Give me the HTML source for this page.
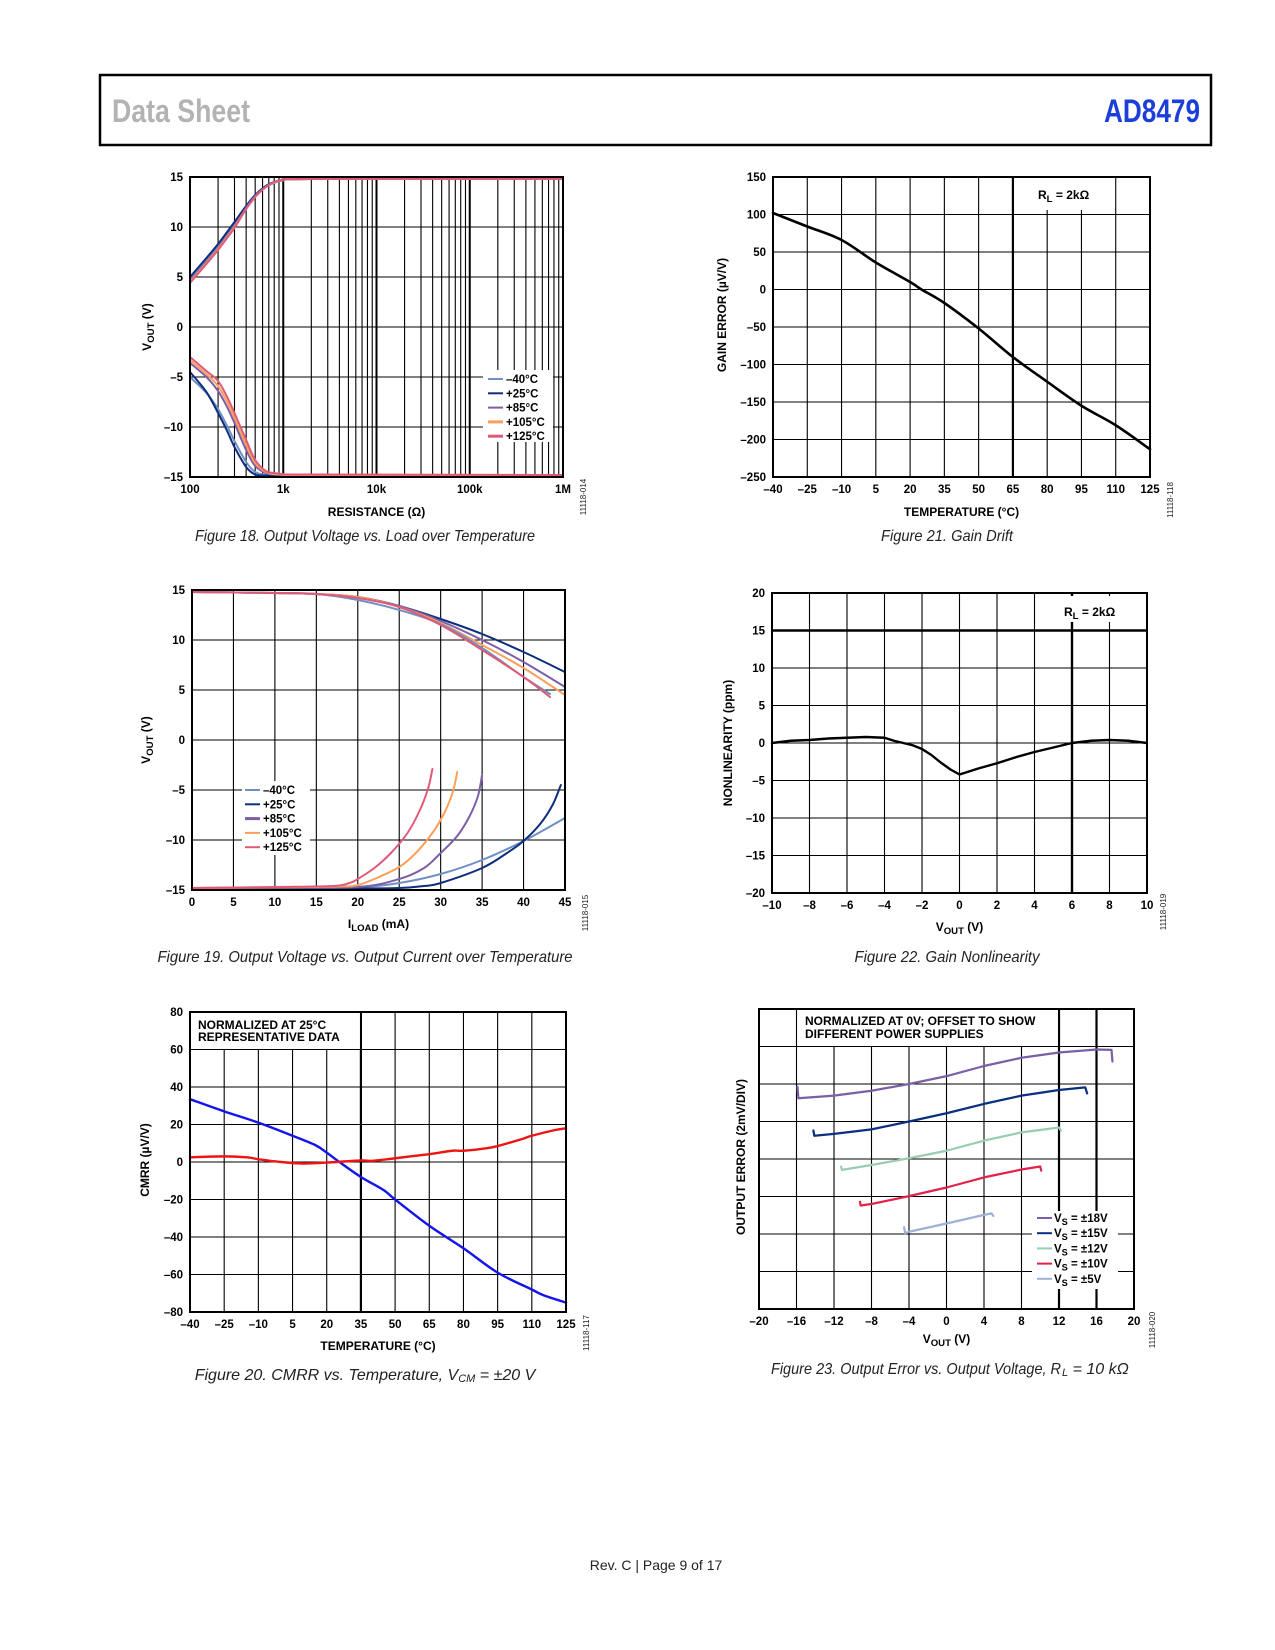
<!DOCTYPE html>
<html><head><meta charset="utf-8">
<style>
html,body{margin:0;padding:0;background:#fff;}
svg{display:block;font-family:"Liberation Sans",sans-serif;}
.tk{font-size:11.5px;font-weight:bold;fill:#000;}
.at{font-size:12px;font-weight:bold;fill:#000;}
.cap{font-size:16px;font-style:italic;fill:#222;}
.fid{font-size:8px;fill:#222;}
</style></head>
<body>
<svg id="page" xmlns="http://www.w3.org/2000/svg" width="1275" height="1650" viewBox="0 0 1275 1650">
<rect x="0" y="0" width="1275" height="1650" fill="#fff"/>
<g>
<rect x="100" y="75" width="1111" height="70" fill="none" stroke="#000" stroke-width="2.5"/>
<text x="112" y="122" style="font-family:'Liberation Sans Narrow','Liberation Sans',sans-serif;font-size:32px;font-weight:bold;fill:#b3b3b3" textLength="138" lengthAdjust="spacingAndGlyphs">Data Sheet</text>
<text x="1200" y="122" text-anchor="end" style="font-family:'Liberation Sans Narrow','Liberation Sans',sans-serif;font-size:32px;font-weight:bold;fill:#1b3fd8" textLength="96" lengthAdjust="spacingAndGlyphs">AD8479</text>
</g>
<text x="656" y="1570" text-anchor="middle" style="font-size:14px;fill:#222">Rev. C | Page 9 of 17</text>
</svg>
<script>
// ---------- Figure 18 data ----------
const f18R=[100,150,200,250,300,400,500,650,800,1000,2000,1e6];
const f18UpM40=[4.8,6.7,8.1,9.3,10.3,12.0,13.1,14.0,14.4,14.65,14.8,14.8];
const f18UpP25=[5.0,6.9,8.3,9.5,10.5,12.1,13.2,14.1,14.5,14.7,14.8,14.8];
const f18UpP85=[4.6,6.5,7.9,9.1,10.1,11.9,13.1,14.0,14.45,14.7,14.8,14.8];
const f18UpP105=[4.5,6.4,7.8,9.0,10.0,11.8,13.0,14.0,14.45,14.7,14.8,14.8];
const f18UpP125=[4.4,6.3,7.7,8.9,9.9,11.8,13.0,14.0,14.5,14.7,14.8,14.8];
const f18LoM40=[-5.0,-6.6,-8.2,-9.9,-11.4,-13.5,-14.5,-14.8,-14.85,-14.9,-14.9,-14.9];
const f18LoP25=[-4.5,-6.5,-8.6,-10.4,-12.0,-14.0,-14.75,-14.85,-14.9,-14.9,-14.9,-14.9];
const f18LoP85=[-3.6,-5.0,-6.4,-8.0,-9.6,-12.3,-13.9,-14.6,-14.75,-14.8,-14.85,-14.85];
const f18LoP105=[-3.3,-4.7,-5.9,-7.5,-9.1,-11.8,-13.6,-14.5,-14.7,-14.75,-14.8,-14.85];
const f18LoP125=[-3.0,-4.4,-5.4,-7.0,-8.6,-11.3,-13.3,-14.4,-14.6,-14.7,-14.75,-14.8];
const f18XTicks=[100,1000,10000,100000,1000000];
const f18XLabels=["100","1k","10k","100k","1M"];
const f18YTicks=[15,10,5,0,-5,-10,-15];
const f18YLabels=["15","10","5","0","–5","–10","–15"];
// ---------- Figure 19 data ----------
const f19XTicks=[0,5,10,15,20,25,30,35,40,45];
const f19YTicks=[15,10,5,0,-5,-10,-15];
const f19YLabels=["15","10","5","0","–5","–10","–15"];
const f19UpX=[0,10,15,20,25,30,35,40,45];
const f19UpP25=[14.8,14.7,14.6,14.3,13.4,12.1,10.6,8.8,6.8];
const f19UpP85=[14.8,14.7,14.6,14.3,13.4,11.9,10.0,7.8,5.3];
const f19UpP105=[14.8,14.7,14.6,14.3,13.3,11.7,9.5,7.2,4.5];
const f19UpM40X=[0,10,15,20,25,30,35,40,43.2];
const f19UpM40=[14.8,14.7,14.6,14.0,13.0,11.6,9.2,6.3,4.6];
const f19UpP125X=[0,10,15,20,25,30,35,40,43.2];
const f19UpP125=[14.8,14.7,14.6,14.2,13.3,11.5,9.0,6.3,4.3];
const f19LoM40X=[0,10,20,25,30,35,40,45];
const f19LoM40=[-14.8,-14.75,-14.7,-14.3,-13.4,-12.0,-10.1,-7.8];
const f19LoP25X=[0,10,20,25,28,30,35,38,40,42,43.5,44.5];
const f19LoP25=[-14.9,-14.9,-14.85,-14.8,-14.6,-14.3,-12.8,-11.3,-10.1,-8.4,-6.5,-4.5];
const f19LoP85X=[0,10,20,25,28,30,32,33.5,34.5,35];
const f19LoP85=[-14.8,-14.75,-14.7,-13.9,-12.8,-11.3,-9.6,-7.6,-5.6,-3.5];
const f19LoP105X=[0,10,18,20,22,25,27,29,30.5,31.5,32];
const f19LoP105=[-14.8,-14.75,-14.65,-14.5,-13.9,-12.7,-11.3,-9.3,-7.2,-5.1,-3.2];
const f19LoP125X=[0,10,17,19,20,22,24,26,27.5,28.5,29];
const f19LoP125=[-14.8,-14.7,-14.6,-14.3,-13.9,-12.8,-11.3,-9.3,-7.0,-4.8,-2.9];
// ---------- Figure 20 data ----------
const f20XTicks=[-40,-25,-10,5,20,35,50,65,80,95,110,125];
const f20XLabels=["–40","–25","–10","5","20","35","50","65","80","95","110","125"];
const f20YTicks=[80,60,40,20,0,-20,-40,-60,-80];
const f20YLabels=["80","60","40","20","0","–20","–40","–60","–80"];
const f20BlueT=[-40,-25,-10,5,15,20,25,35,45,50,65,80,95,110,115,125];
const f20Blue=[33.5,27,21,14,9,5,0.5,-8,-15,-20,-34,-46,-59,-68,-71,-75];
const f20RedT=[-40,-25,-15,-10,0,10,20,35,40,50,65,75,80,90,95,105,110,120,125];
const f20Red=[2.5,3,2.5,1.5,0,-0.8,-0.3,0.8,0.6,2,4.2,6,6,7.3,8.5,12,14,17,18];
// ---------- Figure 21 data ----------
const f21XTicks=[-40,-25,-10,5,20,35,50,65,80,95,110,125];
const f21XLabels=["–40","–25","–10","5","20","35","50","65","80","95","110","125"];
const f21YTicks=[150,100,50,0,-50,-100,-150,-200,-250];
const f21YLabels=["150","100","50","0","–50","–100","–150","–200","–250"];
const f21T=[-40,-25,-10,5,20,25,35,50,65,80,95,110,125];
const f21Gain=[102,84,66,36,10,0,-18,-52,-90,-123,-155,-181,-213];
// ---------- Figure 22 data ----------
const f22XTicks=[-10,-8,-6,-4,-2,0,2,4,6,8,10];
const f22XLabels=["–10","–8","–6","–4","–2","0","2","4","6","8","10"];
const f22YTicks=[20,15,10,5,0,-5,-10,-15,-20];
const f22YLabels=["20","15","10","5","0","–5","–10","–15","–20"];
const f22V=[-10,-9,-8,-7,-6,-5,-4,-3.5,-3,-2.5,-2,-1.5,-1,-0.5,0,0.5,1,2,3,4,5,6,7,8,9,10];
const f22NL=[0,0.3,0.4,0.6,0.7,0.8,0.7,0.3,0,-0.3,-0.8,-1.6,-2.6,-3.5,-4.2,-3.8,-3.4,-2.7,-1.9,-1.2,-0.6,0,0.3,0.4,0.3,0];
// ---------- Figure 23 data (y in divisions) ----------
const f23XTicks=[-20,-16,-12,-8,-4,0,4,8,12,16,20];
const f23XLabels=["–20","–16","–12","–8","–4","0","4","8","12","16","20"];
const f23S18X=[-15.9,-15.8,-12,-8,-4,0,4,8,12,16,17.6,17.7];
const f23S18=[5.93,5.62,5.69,5.82,6.0,6.21,6.48,6.70,6.84,6.92,6.91,6.6];
const f23S15X=[-14.2,-14.1,-12,-8,-4,0,4,8,12,14.8,15.0];
const f23S15=[4.76,4.62,4.67,4.79,5.0,5.22,5.47,5.69,5.84,5.91,5.75];
const f23S12X=[-11.25,-11.15,-8,-4,0,4,8,12,12.2];
const f23S12=[3.80,3.71,3.84,4.02,4.22,4.49,4.71,4.84,4.76];
const f23S10X=[-9.23,-9.16,-8,-4,0,4,8,10.0,10.1];
const f23S10=[2.86,2.76,2.80,3.01,3.24,3.51,3.72,3.80,3.69];
const f23S5X=[-4.53,-4.4,-4,0,4,4.8,5.0];
const f23S5=[2.18,2.02,2.06,2.28,2.51,2.55,2.48];

const NS="http://www.w3.org/2000/svg";
const svg=document.getElementById('page');
function mk(tag,attrs,parent){const e=document.createElementNS(NS,tag);for(const k in attrs)e.setAttribute(k,attrs[k]);(parent||svg).appendChild(e);return e;}
function smooth(p){let d='M'+p[0][0].toFixed(2)+','+p[0][1].toFixed(2);for(let i=0;i<p.length-1;i++){const p0=p[i-1]||p[i],p1=p[i],p2=p[i+1],p3=p[i+2]||p2;const c1=[p1[0]+(p2[0]-p0[0])/6,p1[1]+(p2[1]-p0[1])/6];const c2=[p2[0]-(p3[0]-p1[0])/6,p2[1]-(p3[1]-p1[1])/6];d+='C'+c1[0].toFixed(2)+','+c1[1].toFixed(2)+' '+c2[0].toFixed(2)+','+c2[1].toFixed(2)+' '+p2[0].toFixed(2)+','+p2[1].toFixed(2);}return d;}
function lin(p){return 'M'+p.map(q=>q[0].toFixed(2)+','+q[1].toFixed(2)).join('L');}
function series(g,xs,ys,sx,sy,color,w,name,isSmooth){
  const pts=xs.map((x,i)=>[sx(x),sy(ys[i])]);
  const p=mk('path',{d:isSmooth?smooth(pts):lin(pts),fill:'none',stroke:color,'stroke-width':w,'stroke-linejoin':'round','stroke-linecap':'round'},g);
  
  
  return p;
}
function gline(g,x1,y1,x2,y2,w){const l=mk('line',{x1:x1,y1:y1,x2:x2,y2:y2,stroke:'#000','stroke-width':w},g);return l;}
function txt(g,s,x,y,cls,anchor,name){const t=mk('text',{x:x,y:y,'class':cls,'text-anchor':anchor||'middle'},g);t.textContent=s;return t;}
function sub(g,main,subs,rest,x,y,cls,anchor,name,rot){
  const t=mk('text',{x:x,y:y,'class':cls,'text-anchor':anchor||'middle'},g);
  if(rot)t.setAttribute('transform','rotate(-90 '+x+' '+y+')');
  
  
  const a=mk('tspan',{},t);a.textContent=main;
  const b=mk('tspan',{dy:3,'font-size':'0.8em'},t);b.textContent=subs;
  const c=mk('tspan',{dy:-3},t);c.textContent=rest;
  return t;
}
function figId(g,s,x,y){const t=mk('text',{x:x,y:y,'class':'fid','text-anchor':'middle',transform:'rotate(-90 '+x+' '+y+')'},g);t.textContent=s;}
function caption(g,s,x,y,len){const t=mk('text',{x:x,y:y,'class':'cap','text-anchor':'middle',textLength:len,lengthAdjust:'spacingAndGlyphs'},g);t.textContent=s;return t;}
function whiteBox(g,x,y,w,h,name){const r=mk('rect',{x:x,y:y,width:w,height:h,fill:'#fff'},g);return r;}
function frame(g,L,T,R,B){const r=mk('rect',{x:L,y:T,width:R-L,height:B-T,fill:'none',stroke:'#000','stroke-width':2},g);}
function yTicks(g,vals,labels,sy,L){vals.forEach((v,i)=>{txt(g,labels[i],L-7,sy(v)+4,'tk','end','y-tick-label');});}
function xTicks(g,vals,labels,sx,B){vals.forEach((v,i)=>{txt(g,labels[i],sx(v),B+16,'tk','middle','x-tick-label');});}
function legend(g,entries,x,y,dy){
  entries.forEach((e,i)=>{
    const l=mk('line',{x1:x,y1:y+i*dy,x2:x+15,y2:y+i*dy,stroke:e[1],'stroke-width':e[2]||2},g);
    
    
    txt(g,e[0],x+18,y+i*dy+4,'tk','start','legend-entry');
  });
}

// ================= Figure 18 =================
(function(){
  const g=mk('g',{});
  const L=190,T=177,R=563,B=477;
  const sx=v=>L+Math.log10(v/100)*(R-L)/4, sy=v=>T+(15-v)*(B-T)/30;
  for(let d=100;d<1e6;d*=10){for(let m=1;m<10;m++){const x=sx(d*m);gline(g,x,T,x,B,m===1?2:1.1);}}
  f18YTicks.forEach(v=>gline(g,L,sy(v),R,sy(v),1.1));
  whiteBox(g,483,370,70,72,'legend-background');
  const C={m40:'#7090c4',p25:'#0d2f7d',p85:'#7d5fa8',p105:'#f9a05c',p125:'#e05a78'};
  series(g,f18R,f18UpM40,sx,sy,C.m40,2,'line-minus40-high',true);
  series(g,f18R,f18UpP25,sx,sy,C.p25,2,'line-plus25-high',true);
  series(g,f18R,f18UpP85,sx,sy,C.p85,2,'line-plus85-high',true);
  series(g,f18R,f18UpP105,sx,sy,C.p105,2,'line-plus105-high',true);
  series(g,f18R,f18UpP125,sx,sy,C.p125,2,'line-plus125-high',true);
  series(g,f18R,f18LoM40,sx,sy,C.m40,2,'line-minus40-low',true);
  series(g,f18R,f18LoP25,sx,sy,C.p25,2,'line-plus25-low',true);
  series(g,f18R,f18LoP85,sx,sy,C.p85,2,'line-plus85-low',true);
  series(g,f18R,f18LoP105,sx,sy,C.p105,2,'line-plus105-low',true);
  series(g,f18R,f18LoP125,sx,sy,C.p125,2,'line-plus125-low',true);
  frame(g,L,T,R,B);
  legend(g,[['–40°C',C.m40],['+25°C',C.p25],['+85°C',C.p85],['+105°C',C.p105,3],['+125°C',C.p125,3]],488,379,14.3);
  yTicks(g,f18YTicks,f18YLabels,sy,L);
  xTicks(g,f18XTicks,f18XLabels,sx,B);
  txt(g,'RESISTANCE (Ω)',(L+R)/2,516,'at','middle','x-axis-title');
  sub(g,'V','OUT',' (V)',151,327,'at','middle','y-axis-title',true);
  figId(g,'11118-014',586,497);
  caption(g,'Figure 18. Output Voltage vs. Load over Temperature',365,541,340);
})();

// ================= Figure 19 =================
(function(){
  const g=mk('g',{});
  const L=192,T=590,R=565,B=890;
  const sx=v=>L+v*(R-L)/45, sy=v=>T+(15-v)*(B-T)/30;
  f19XTicks.forEach(v=>gline(g,sx(v),T,sx(v),B,1.1));
  f19YTicks.forEach(v=>gline(g,L,sy(v),R,sy(v),1.1));
  whiteBox(g,242,781,68,74,'legend-background');
  const C={m40:'#7090c4',p25:'#0d2f7d',p85:'#7d5fa8',p105:'#f9a05c',p125:'#e05a78'};
  series(g,f19UpX,f19UpP25,sx,sy,C.p25,2,'line-plus25-high',true);
  series(g,f19UpX,f19UpP85,sx,sy,C.p85,2,'line-plus85-high',true);
  series(g,f19UpX,f19UpP105,sx,sy,C.p105,2,'line-plus105-high',true);
  series(g,f19UpM40X,f19UpM40,sx,sy,C.m40,2,'line-minus40-high',true);
  series(g,f19UpP125X,f19UpP125,sx,sy,C.p125,2,'line-plus125-high',true);
  series(g,f19LoM40X,f19LoM40,sx,sy,C.m40,2,'line-minus40-low',true);
  series(g,f19LoP25X,f19LoP25,sx,sy,C.p25,2,'line-plus25-low',true);
  series(g,f19LoP85X,f19LoP85,sx,sy,C.p85,2,'line-plus85-low',true);
  series(g,f19LoP105X,f19LoP105,sx,sy,C.p105,2,'line-plus105-low',true);
  series(g,f19LoP125X,f19LoP125,sx,sy,C.p125,2,'line-plus125-low',true);
  frame(g,L,T,R,B);
  legend(g,[['–40°C',C.m40],['+25°C',C.p25],['+85°C',C.p85,3],['+105°C',C.p105],['+125°C',C.p125]],245,790,14.3);
  yTicks(g,f19YTicks,f19YLabels,sy,L);
  xTicks(g,f19XTicks,f19XTicks.map(String),sx,B);
  sub(g,'I','LOAD',' (mA)',(L+R)/2,928,'at','middle','x-axis-title',false);
  sub(g,'V','OUT',' (V)',150,740,'at','middle','y-axis-title',true);
  figId(g,'11118-015',588,913);
  caption(g,'Figure 19. Output Voltage vs. Output Current over Temperature',365,962,415);
})();

// ================= Figure 20 =================
(function(){
  const g=mk('g',{});
  const L=190,T=1012,R=566,B=1312;
  const sx=v=>L+(v+40)*(R-L)/165, sy=v=>T+(80-v)*(B-T)/160;
  f20XTicks.forEach(v=>gline(g,sx(v),T,sx(v),B,v===35?2.2:1.1));
  f20YTicks.forEach(v=>gline(g,L,sy(v),R,sy(v),1.1));
  whiteBox(g,L+1,T+1,sx(35)-L-2,sy(60)-T-1.5,'annotation-background');
  series(g,f20BlueT,f20Blue,sx,sy,'#1414ee',2.4,'line-cmrr-blue',true);
  series(g,f20RedT,f20Red,sx,sy,'#ee1414',2.4,'line-cmrr-red',true);
  frame(g,L,T,R,B);
  txt(g,'NORMALIZED AT 25°C',198,1029,'at','start','annotation-line-1');
  txt(g,'REPRESENTATIVE DATA',198,1041,'at','start','annotation-line-2');
  yTicks(g,f20YTicks,f20YLabels,sy,L);
  xTicks(g,f20XTicks,f20XLabels,sx,B);
  txt(g,'TEMPERATURE (°C)',(L+R)/2,1350,'at','middle','x-axis-title');
  txt(g,'CMRR (µV/V)',0,0,'at','middle','y-axis-title').setAttribute('transform','translate(149 1160) rotate(-90)');
  figId(g,'11118-117',589,1333);
  const c=mk('text',{x:365,y:1380,'class':'cap','text-anchor':'middle'},g);
  
  
  const a=mk('tspan',{},c);a.textContent='Figure 20. CMRR vs. Temperature, V';
  const b=mk('tspan',{'font-size':'11px',dy:2},c);b.textContent='CM';
  const d=mk('tspan',{dy:-2},c);d.textContent=' = ±20 V';
})();

// ================= Figure 21 =================
(function(){
  const g=mk('g',{});
  const L=773,T=177,R=1150,B=477;
  const sx=v=>L+(v+40)*(R-L)/165, sy=v=>T+(150-v)*(B-T)/400;
  f21XTicks.forEach(v=>gline(g,sx(v),T,sx(v),B,v===65?2.2:1.1));
  f21YTicks.forEach(v=>gline(g,L,sy(v),R,sy(v),1.1));
  whiteBox(g,1032,178,62,32,'annotation-background');
  series(g,f21T,f21Gain,sx,sy,'#000',2.6,'line-gain-error',true);
  frame(g,L,T,R,B);
  sub(g,'R','L',' = 2kΩ',1038,199,'at','start','annotation-rl',false);
  yTicks(g,f21YTicks,f21YLabels,sy,L);
  xTicks(g,f21XTicks,f21XLabels,sx,B);
  txt(g,'TEMPERATURE (°C)',(L+R)/2,516,'at','middle','x-axis-title');
  txt(g,'GAIN ERROR (µV/V)',0,0,'at','middle','y-axis-title').setAttribute('transform','translate(726 315) rotate(-90)');
  figId(g,'11118-118',1173,500);
  caption(g,'Figure 21. Gain Drift',947,541,132);
})();

// ================= Figure 22 =================
(function(){
  const g=mk('g',{});
  const L=772,T=593,R=1147,B=893;
  const sx=v=>L+(v+10)*(R-L)/20, sy=v=>T+(20-v)*(B-T)/40;
  f22XTicks.forEach(v=>gline(g,sx(v),T,sx(v),B,v===6?2.4:1.1));
  f22YTicks.forEach(v=>gline(g,L,sy(v),R,sy(v),v===15?2.4:1.1));
  whiteBox(g,1060,596,70,26,'annotation-background');
  series(g,f22V,f22NL,sx,sy,'#000',2.4,'line-nonlinearity',false);
  frame(g,L,T,R,B);
  sub(g,'R','L',' = 2kΩ',1064,616,'at','start','annotation-rl',false);
  yTicks(g,f22YTicks,f22YLabels,sy,L);
  xTicks(g,f22XTicks,f22XLabels,sx,B);
  sub(g,'V','OUT',' (V)',(L+R)/2,931,'at','middle','x-axis-title',false);
  txt(g,'NONLINEARITY (ppm)',0,0,'at','middle','y-axis-title').setAttribute('transform','translate(732 743) rotate(-90)');
  figId(g,'11118-019',1166,912);
  caption(g,'Figure 22. Gain Nonlinearity',947,962,185);
})();

// ================= Figure 23 =================
(function(){
  const g=mk('g',{});
  const L=759,T=1009,R=1134,B=1309;
  const sx=v=>L+(v+20)*(R-L)/40, sy=v=>B-v*(B-T)/8;
  f23XTicks.forEach(v=>gline(g,sx(v),T,sx(v),B,(v===12||v===16)?2.2:1.1));
  for(let d=1;d<8;d++)gline(g,L,sy(d),R,sy(d),1.1);
  whiteBox(g,sx(-16)+1,T+1,sx(12)-sx(-16)-2,sy(7)-T-1.5,'annotation-background');
  whiteBox(g,1032,1211,86,78,'legend-background');
  series(g,f23S18X,f23S18,sx,sy,'#7b5ea7',2.2,'line-vs-18v',false);
  series(g,f23S15X,f23S15,sx,sy,'#0a2f80',2.2,'line-vs-15v',false);
  series(g,f23S12X,f23S12,sx,sy,'#98cdb0',2.2,'line-vs-12v',false);
  series(g,f23S10X,f23S10,sx,sy,'#e3224c',2.2,'line-vs-10v',false);
  series(g,f23S5X,f23S5,sx,sy,'#9db2d4',2.2,'line-vs-5v',false);
  frame(g,L,T,R,B);
  txt(g,'NORMALIZED AT 0V; OFFSET TO SHOW',805,1025,'at','start','annotation-line-1');
  txt(g,'DIFFERENT POWER SUPPLIES',805,1038,'at','start','annotation-line-2');
  const ent=[['±18V','#7b5ea7'],['±15V','#0a2f80'],['±12V','#98cdb0'],['±10V','#e3224c'],['±5V','#9db2d4']];
  ent.forEach((e,i)=>{
    const y=1218+i*15.2;
    const l=mk('line',{x1:1037,y1:y,x2:1052,y2:y,stroke:e[1],'stroke-width':2},g);
    
    
    sub(g,'V','S',' = '+e[0],1054,y+4,'tk','start','legend-entry',false);
  });
  xTicks(g,f23XTicks,f23XLabels,sx,B);
  sub(g,'V','OUT',' (V)',(L+R)/2,1343,'at','middle','x-axis-title',false);
  txt(g,'OUTPUT ERROR (2mV/DIV)',0,0,'at','middle','y-axis-title').setAttribute('transform','translate(745 1157) rotate(-90)');
  figId(g,'11118-020',1155,1330);
  caption(g,'Figure 23. Output Error vs. Output Voltage, R',916,1374,290);
  const c=mk('text',{x:1062,y:1374,'class':'cap','text-anchor':'start'},g);
  
  
  const a=mk('tspan',{'font-size':'11px',dy:2},c);a.textContent='L';
  const b=mk('tspan',{dy:-2},c);b.textContent=' = 10 kΩ';
})();
</script>
</body></html>
